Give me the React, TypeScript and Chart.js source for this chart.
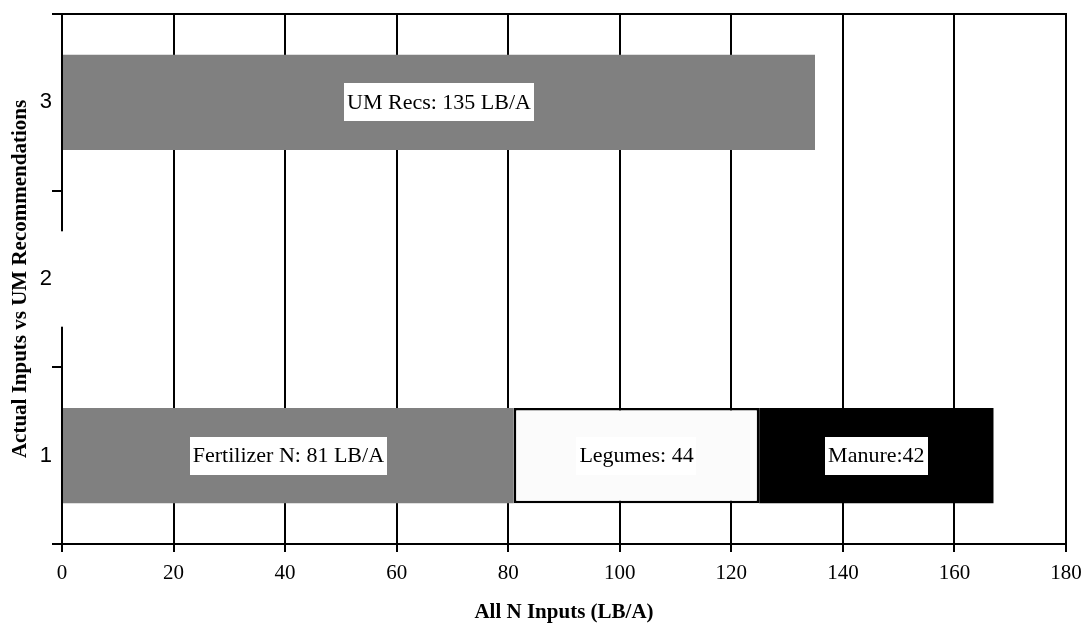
import React, { useEffect, useRef } from "react";
import { Chart, registerables } from "chart.js";

Chart.register(...registerables);

const categories = ["1", "2", "3"];
const fertilizer = [81, null, null];
const legumes = [44, null, null];
const manure = [42, null, null];
const umRecs = [null, null, 135];
const hiddenGap = [null, 0.4, null];
const fertilizerLabels = ["Fertilizer N: 81 LB/A", "", ""];
const legumesLabels = ["Legumes: 44", "", ""];
const manureLabels = ["Manure:42", "", ""];
const umRecsLabels = ["", "", "UM Recs: 135 LB/A"];
const xTicks = [0, 20, 40, 60, 80, 100, 120, 140, 160, 180];

const SERIF = "'Liberation Serif', 'Times New Roman', serif";
const SANS = "'Liberation Sans', Arial, sans-serif";

const boxLabelPlugin = {
  id: "boxLabels",
  afterDatasetsDraw(chart: any) {
    const ctx = chart.ctx;
    ctx.save();
    ctx.font = `22px ${SERIF}`;
    ctx.textAlign = "center";
    ctx.textBaseline = "middle";
    chart.data.datasets.forEach((ds: any, di: number) => {
      if (!ds.boxLabels) return;
      const meta = chart.getDatasetMeta(di);
      meta.data.forEach((el: any, i: number) => {
        const txt = ds.boxLabels[i];
        if (!txt) return;
        const p = el.getCenterPoint();
        const w = ctx.measureText(txt).width + 6;
        const h = 38;
        ctx.fillStyle = "#ffffff";
        ctx.fillRect(Math.round(p.x - w / 2), Math.round(p.y - h / 2), Math.round(w), h);
        ctx.fillStyle = "#000000";
        ctx.fillText(txt, p.x, p.y + 1);
      });
    });
    ctx.restore();
  },
};

const topLinePlugin = {
  id: "topLine",
  beforeDatasetsDraw(chart: any) {
    const { ctx, chartArea } = chart;
    ctx.save();
    ctx.strokeStyle = "#000";
    ctx.lineWidth = 2;
    ctx.beginPath();
    ctx.moveTo(chartArea.left, chartArea.top);
    ctx.lineTo(chartArea.right + 1, chartArea.top);
    ctx.stroke();
    ctx.restore();
  },
};

export default function App() {
  const ref = useRef<HTMLCanvasElement | null>(null);
  useEffect(() => {
    if (!ref.current) return;
    const chart = new Chart(ref.current, {
      type: "bar",
      data: {
        labels: categories,
        datasets: [
          {
            label: "Fertilizer N",
            data: fertilizer,
            backgroundColor: "#808080",
            borderWidth: 0,
            boxLabels: fertilizerLabels,
          } as any,
          {
            label: "Legumes",
            data: legumes,
            backgroundColor: "#fbfbfb",
            borderColor: "#000000",
            borderWidth: 2.5,
            borderSkipped: false,
            boxLabels: legumesLabels,
          } as any,
          {
            label: "Manure",
            data: manure,
            backgroundColor: "#000000",
            borderWidth: 0,
            boxLabels: manureLabels,
          } as any,
          {
            label: "UM Recs",
            data: umRecs,
            backgroundColor: "#808080",
            borderWidth: 0,
            boxLabels: umRecsLabels,
          } as any,
          {
            label: "gap",
            data: hiddenGap,
            base: -0.4,
            backgroundColor: "#ffffff",
            borderWidth: 0,
            clip: false,
          } as any,
        ],
      },
      options: {
        indexAxis: "y",
        responsive: false,
        animation: false,
        layout: { padding: { left: 0, right: 19, top: 14, bottom: 0 } },
        datasets: {
          bar: { barPercentage: 0.54, categoryPercentage: 1 },
        },
        plugins: {
          legend: { display: false },
          tooltip: { enabled: false },
        },
        scales: {
          x: {
            type: "linear",
            stacked: true,
            min: 0,
            max: 180,
            afterBuildTicks(scale: any) {
              scale.ticks = xTicks.map((v) => ({ value: v }));
            },
            afterFit(scale: any) {
              scale.height = 79;
              scale.paddingLeft = 0;
              scale.paddingRight = 0;
            },
            ticks: {
              color: "#000",
              font: { family: SERIF, size: 21 },
              padding: 9,
            },
            grid: {
              color: "#000",
              lineWidth: 2,
              tickLength: 8,
              drawTicks: true,
            },
            border: { display: true, color: "#000", width: 2 },
            title: {
              display: true,
              text: "All N Inputs (LB/A)",
              color: "#000",
              font: { family: SERIF, size: 21, weight: "bold", lineHeight: 0.95 },
              padding: { top: 4, bottom: 0 },
            },
          },
          y: {
            type: "category",
            stacked: true,
            reverse: true,
            offset: true,
            afterFit(scale: any) {
              scale.width = 62;
            },
            ticks: {
              color: "#000",
              font: { family: SANS, size: 22 },
              padding: 0,
            },
            grid: {
              offset: true,
              drawOnChartArea: false,
              drawTicks: true,
              tickLength: 10,
              color: "#000",
              lineWidth: 2,
            },
            border: { display: false },
            title: {
              display: true,
              text: "Actual Inputs vs UM Recommendations",
              color: "#000",
              font: { family: SERIF, size: 21, weight: "bold" },
              padding: { top: 8, bottom: 0 },
            },
          },
        },
      } as any,
      plugins: [boxLabelPlugin, topLinePlugin],
    });
    return () => chart.destroy();
  }, []);
  return (
    <div style={{ position: "absolute", left: 0, top: 0, width: 1085, height: 623, background: "#fff" }}>
      <canvas ref={ref} width={1085} height={623} style={{ display: "block" }} />
    </div>
  );
}
